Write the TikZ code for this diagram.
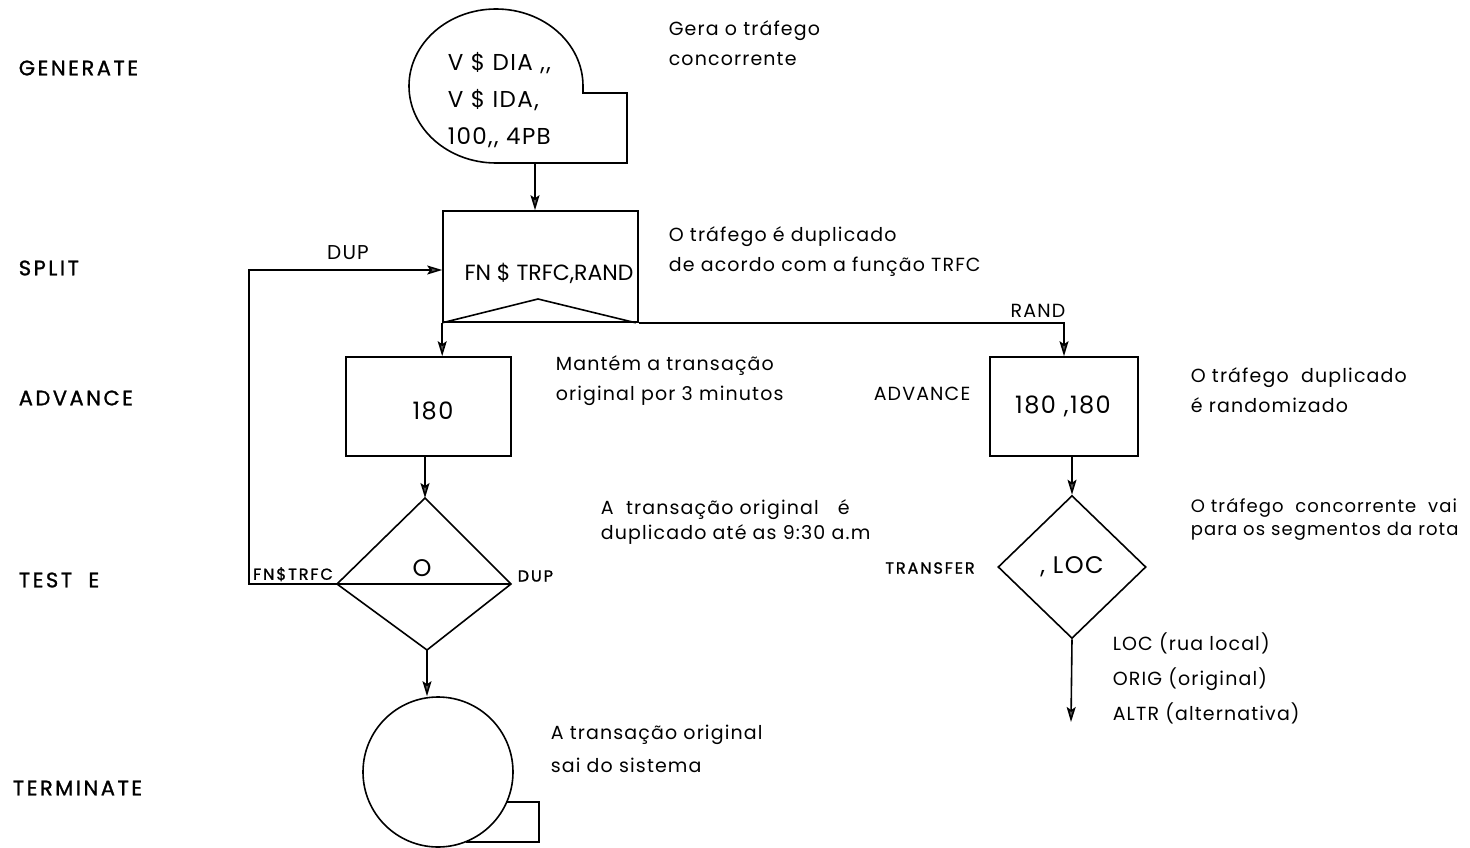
\documentclass[tikz,border=0pt]{standalone}
\usepackage{fontspec}
\setmainfont{Poppins}
\newfontfamily\lett[LetterSpace=6]{Poppins}
\newfontfamily\letm[LetterSpace=12,FakeBold=1.2]{Poppins}
\usetikzlibrary{arrows.meta,shapes.geometric}
\begin{document}
\begin{tikzpicture}[x=1pt,y=-1pt,
  line width=1.6pt,
  arr/.style={-{Stealth[length=15pt,width=9pt,inset=3pt,fill=black!65]}},
  side/.style={anchor=west,font=\letm\fontsize{21}{24}\selectfont,inner sep=0pt},
  note/.style={anchor=west,align=left,font=\lett\fontsize{19}{30}\selectfont,inner sep=0pt},
  blk/.style={draw,rectangle,inner sep=0pt},
  btxt/.style={font=\lett\fontsize{24}{28}\selectfont,inner sep=0pt},
  small/.style={font=\letm\fontsize{16}{18}\selectfont,inner sep=0pt},
  mid/.style={font=\lett\fontsize{19}{22}\selectfont,inner sep=0pt}
]
\useasboundingbox (0,0) rectangle (1470,848);

% left column labels
\node[side] (lgen) at (18,68) {GENERATE};
\node[side] (lspl) at (18,268) {SPLIT};
\node[side] (ladv) at (18,398) {ADVANCE};
\node[side] (ltes) at (18,580) {TEST\ \ E};
\node[side] (lter) at (12,788) {TERMINATE};

% GENERATE block
\draw (583,86) arc[start angle=0,end angle=-270,x radius=87,y radius=77]
  -- (627,163) -- (627,93) -- (583,93) -- cycle;
\coordinate (genb) at (535,163);
\node[btxt,anchor=west,align=left,font=\lett\fontsize{23}{37}\selectfont] (gentxt) at (447,100) {V \$ DIA ,{},\\V \$ IDA,\\100,{}, 4PB};

% SPLIT block
\node[blk,minimum width=195pt,minimum height=111pt] (split) at (540.5,266.5) {};
\draw (split.south west) -- (538,299) -- ([xshift=-3pt]split.south east);
\node[font=\fontsize{22}{26}\selectfont,inner sep=0pt] (spltxt) at (549,273) {FN \$ TRFC,RAND};

% ADVANCE blocks
\node[blk,minimum width=165pt,minimum height=99pt] (adv1) at (428.5,406.5) {};
\node[btxt] (adv1t) at (433,411) {180};
\node[blk,minimum width=148pt,minimum height=99pt] (adv2) at (1064,406.5) {};
\node[btxt] (adv2t) at (1063,406) {180 ,180};
\node[mid] (advr) at (922,394) {ADVANCE};

% TEST E diamond
\coordinate (ttop) at (425,498);
\coordinate (tleft) at (337,584);
\coordinate (tright) at (511,584);
\coordinate (tbot) at (427,650);
\draw (ttop) -- (tright) -- (tbot) -- (tleft) -- cycle;
\draw (tleft) -- (tright);
\node[btxt] (ozero) at (422,568) {O};
\node[small,anchor=south] (fns) at (293,582) {FN\$TRFC};
\node[small,anchor=west] (dupr) at (517,576) {DUP};

% TRANSFER diamond
\node[draw,diamond,minimum width=148pt,minimum height=143pt,inner sep=0pt,btxt] (xfer) at (1072,567) {, LOC};
\node[small] (xferl) at (930,568) {TRANSFER};
\coordinate (xend) at (1071,722);

% TERMINATE
\node[draw,circle,minimum size=150pt,inner sep=0pt] (term) at (438,772) {};
\draw (507,802) -- (539,802) -- (539,842) -- (466,842);

% connectors
\draw[arr] (genb) -- (split.north -| genb);
\draw[arr] (split.south west) -- (adv1.north -| split.south west);
\draw[arr] (split.south east) -| (adv2.north);
\node[mid] (rand) at (1038,311) {RAND};
\draw[arr] (adv1.south -| ttop) -- (ttop);
\draw[arr] (tbot) -- (tbot |- term.north);
\coordinate (loopx) at (249,270);
\draw[arr] (tleft) -| (loopx) -- (split.west |- loopx);
\node[mid,font=\lett\fontsize{20}{22}\selectfont] (dupl) at (348,253) {DUP};
\draw[arr] (adv2.south -| xfer.north) -- (xfer.north);
\draw[arr] (xfer.south) -- (xend);

% notes
\node[note] (n1) at (668,43) {Gera o tráfego\\concorrente};
\node[note] (n2) at (668,252) {O tráfego é duplicado\\de acordo com a função TRFC};
\node[note] (n3) at (555,381) {Mantém a transação\\original por 3 minutos};
\node[note,font=\lett\fontsize{19}{25}\selectfont] (n4) at (600,522) {A\ \ transação original\quad é\\duplicado até as 9:30 a.m};
\node[note] (n5) at (1190,390) {O tráfego\ \ duplicado\\é randomizado};
\node[note,font=\lett\fontsize{18}{23}\selectfont] (n6) at (1190,519) {O tráfego\ \ concorrente\ \ vai\\para os segmentos da rota};
\node[note,font=\lett\fontsize{19}{35}\selectfont] (n7) at (1112,678) {LOC (rua local)\\ORIG (original)\\ALTR (alternativa)};
\node[note,font=\lett\fontsize{19}{33}\selectfont] (n8) at (550,749) {A transação original\\sai do sistema};
\end{tikzpicture}
\end{document}
